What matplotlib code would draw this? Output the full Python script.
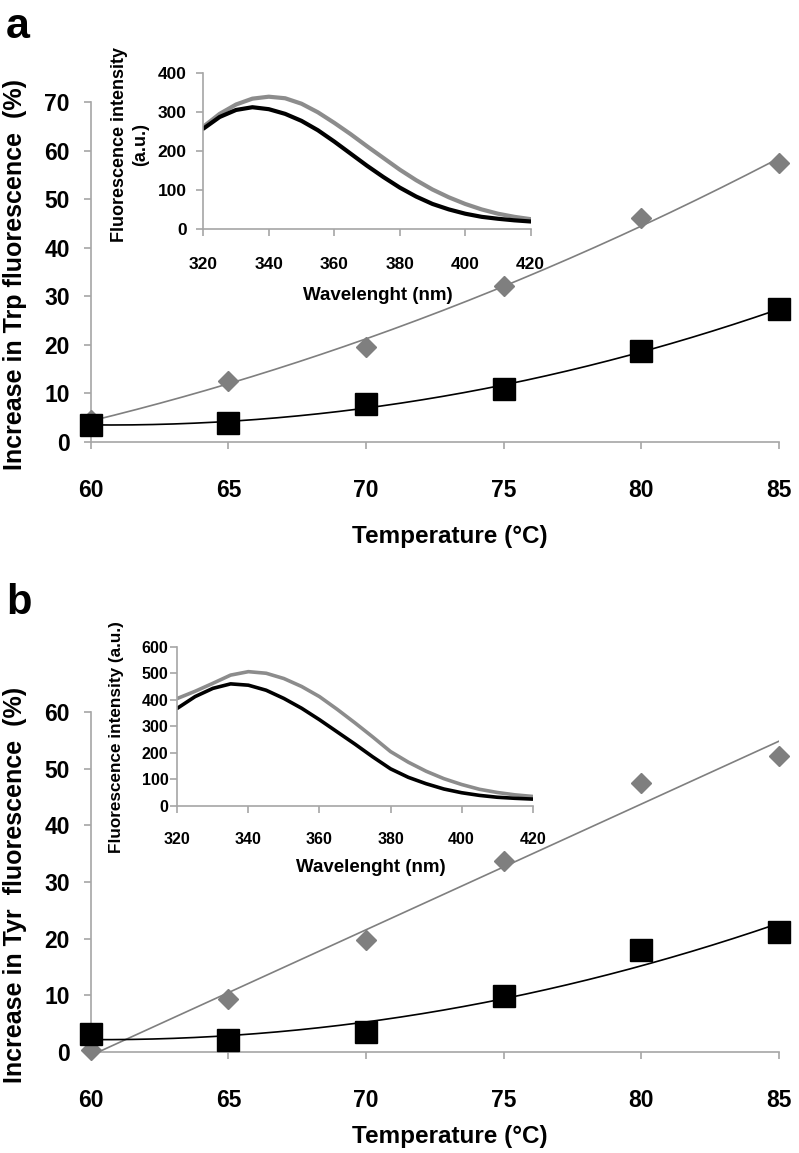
import numpy as np
import matplotlib
matplotlib.use("Agg")
import matplotlib.pyplot as plt

plt.rcParams['font.family'] = ['Liberation Sans', 'DejaVu Sans']
plt.rcParams['font.weight'] = 'bold'

# main panels: temperature series
temp = [60, 65, 70, 75, 80, 85]
trp_grey = [4.5, 12.5, 19.6, 32.2, 46.2, 57.5]
trp_black = [3.5, 4.0, 7.8, 11.0, 18.7, 27.4]
tyr_grey = [0.3, 9.3, 19.7, 33.7, 47.4, 52.3]
tyr_black = [3.1, 2.2, 3.5, 9.8, 18.0, 21.1]

# inset spectra
wl = [320, 325, 330, 335, 340, 345, 350, 355, 360, 365, 370,
      375, 380, 385, 390, 395, 400, 405, 410, 415, 420]
trp_spec_black = [258, 288, 306, 313, 308, 296, 278, 254, 225, 194, 163,
                  134, 107, 84, 65, 51, 40, 32, 27, 23, 20]
trp_spec_grey = [263, 296, 320, 335, 340, 336, 322, 300, 273, 244, 213,
                 183, 153, 126, 102, 82, 65, 51, 40, 32, 26]
tyr_spec_black = [368, 412, 443, 460, 455, 436, 405, 368, 325, 279, 233,
                  185, 140, 108, 84, 64, 50, 40, 33, 29, 26]
tyr_spec_grey = [405, 432, 462, 493, 506, 500, 480, 450, 412, 364, 313,
                 260, 205, 165, 131, 103, 81, 63, 51, 42, 36]

W, H = 799, 1153
GREY = '#7f7f7f'
SPINE = '#a6a6a6'

fig = plt.figure(figsize=(W / 100, H / 100), dpi=100)


def box(left, top, right, bottom):
    return [left / W, 1 - bottom / H, (right - left) / W, (bottom - top) / H]


def style(ax, size, xpad, ypad):
    for s in ['top', 'right']:
        ax.spines[s].set_visible(False)
    for s in ['left', 'bottom']:
        ax.spines[s].set_color(SPINE)
        ax.spines[s].set_linewidth(1.2)
    ax.tick_params(direction='out', color=SPINE, width=1.2, length=5,
                   labelsize=size)
    ax.tick_params(axis='x', pad=xpad)
    ax.tick_params(axis='y', pad=ypad)
    for lab in ax.get_xticklabels() + ax.get_yticklabels():
        lab.set_fontweight('bold')


def main_panel(rect, grey, black, grey_order, ymax):
    ax = fig.add_axes(rect)
    xs = np.linspace(60, 85, 300)
    pg = np.polyfit(temp, grey, grey_order)
    pb = np.polyfit(temp, black, 2)
    ax.plot(xs, np.polyval(pg, xs), color=GREY, lw=1.2, zorder=2)
    ax.plot(xs, np.polyval(pb, xs), color='black', lw=1.2, zorder=2)
    ax.plot(temp, grey, 'D', color=GREY, ms=10.5, mec=GREY, zorder=3,
            clip_on=False)
    ax.plot(temp, black, 's', color='black', ms=15.5, zorder=4,
            clip_on=False)
    ax.set_xlim(60, 85)
    ax.set_ylim(0, ymax)
    ax.set_xticks(temp)
    ax.set_yticks(range(0, ymax + 1, 10))
    style(ax, 16.5, 21.5, 10)
    return ax


def inset(rect, black, grey, ymax, size, lw, xpad, ypad):
    ax = fig.add_axes(rect)
    ax.plot(wl, grey, color='#8c8c8c', lw=lw, solid_capstyle='round')
    ax.plot(wl, black, color='black', lw=lw, solid_capstyle='round')
    ax.set_xlim(320, 420)
    ax.set_ylim(0, ymax)
    ax.set_xticks(range(320, 421, 20))
    ax.set_yticks(range(0, ymax + 1, 100))
    ax.patch.set_alpha(0)
    style(ax, size, xpad, ypad)
    return ax


# panel a
main_panel(box(90.7, 102, 779, 442), trp_grey, trp_black, 2, 70)
inset(box(203.3, 73.3, 530.7, 229.3), trp_spec_black, trp_spec_grey,
      400, 12.5, 3.0, 15, 7)
fig.text(130 / W, 1 - 145 / H, 'Fluorescence intensity\n(a.u.)', rotation=90,
         ha='center', va='center', fontsize=13, fontweight='bold',
         linespacing=1.3)
fig.text(378 / W, 1 - 295 / H, 'Wavelenght (nm)', ha='center', va='center',
         fontsize=13.5, fontweight='bold')
fig.text(15 / W, 1 - 275 / H, 'Increase in Trp fluorescence  (%)',
         rotation=90, ha='center', va='center', fontsize=18,
         fontweight='bold')
fig.text(450 / W, 1 - 537 / H, 'Temperature (\u00b0C)', ha='center',
         va='center', fontsize=17.5, fontweight='bold')
fig.text(18 / W, 1 - 27 / H, 'a', ha='center', va='center', fontsize=31,
         fontweight='bold')

# panel b
main_panel(box(90.7, 712, 779, 1052), tyr_grey, tyr_black, 1, 60)
inset(box(177.3, 646.7, 532.7, 806), tyr_spec_black, tyr_spec_grey,
      600, 11.5, 2.6, 14, 1.5)
fig.text(117 / W, 1 - 737 / H, 'Fluorescence intensity (a.u.)', rotation=90,
         ha='center', va='center', fontsize=12.3, fontweight='bold')
fig.text(371 / W, 1 - 868 / H, 'Wavelenght (nm)', ha='center', va='center',
         fontsize=13.5, fontweight='bold')
fig.text(15 / W, 1 - 885 / H, 'Increase in Tyr  fluorescence  (%)',
         rotation=90, ha='center', va='center', fontsize=18,
         fontweight='bold')
fig.text(450 / W, 1 - 1137 / H, 'Temperature (\u00b0C)', ha='center',
         va='center', fontsize=17.5, fontweight='bold')
fig.text(19 / W, 1 - 603 / H, 'b', ha='center', va='center', fontsize=30,
         fontweight='bold')

fig.savefig('out.png', dpi=100)
